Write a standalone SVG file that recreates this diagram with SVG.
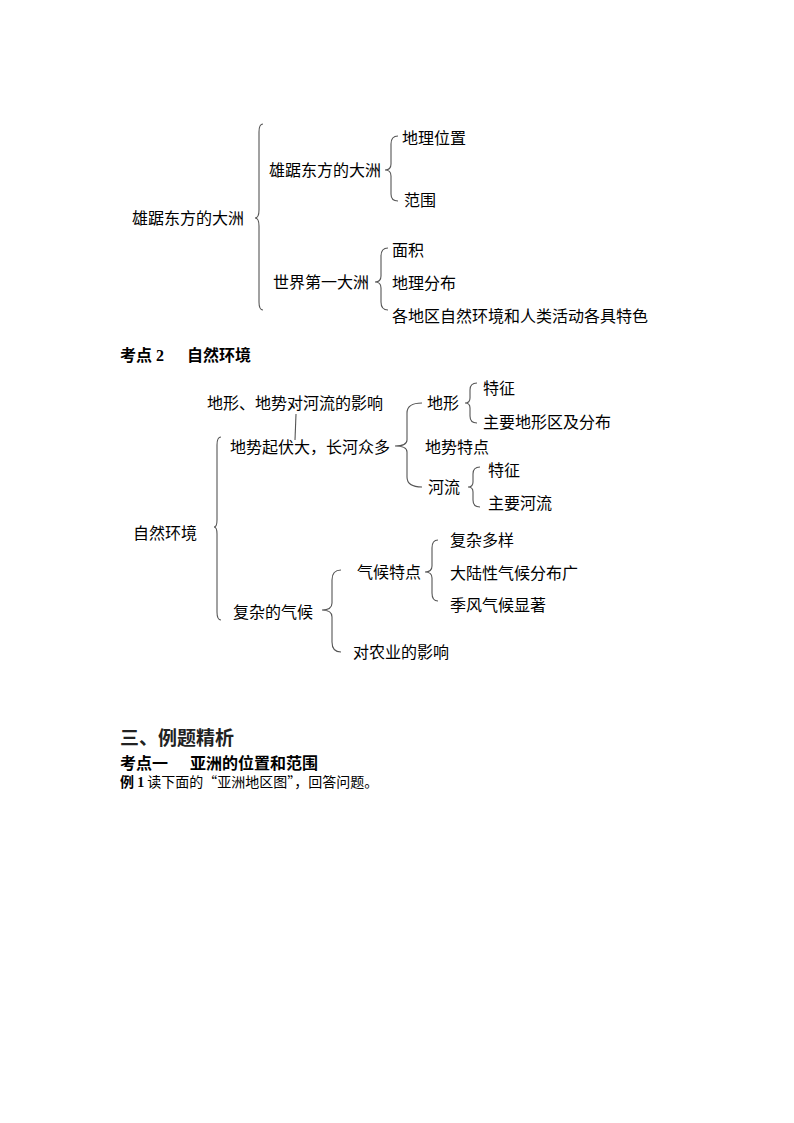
<svg xmlns="http://www.w3.org/2000/svg" width="794" height="1123" viewBox="0 0 794 1123">
<style>
text{font-family:"Liberation Serif","Noto Sans CJK SC",sans-serif;fill:#000}
.t{font-size:16px}
.h{font-size:16px;font-weight:bold}
.h1{font-size:19px;font-weight:bold;fill:#222}
.s{font-size:14px;font-family:"Noto Sans CJK SC",sans-serif}
.lat{font-family:"Liberation Serif",serif}
.b{fill:none;stroke:#555;stroke-width:1.1}
</style>
<rect width="794" height="1123" fill="#fff"/>
<g id="connectors">
<path class="b" d="M263,124 Q259,124 259,132 L259,210 Q259,218 255,218 Q259,218 259,226 L259,302 Q259,310 263,310"/>
<path class="b" d="M398,136 Q391,136 391,144 L391,164 Q391,170 385,170 Q391,170 391,176 L391,194 Q391,201 398,201"/>
<path class="b" d="M388,248 Q381,248 381,256 L381,276 Q381,282 375,282 Q381,282 381,288 L381,302 Q381,310 388,310"/>
<path class="b" d="M296,414 L295,440"/>
<path class="b" d="M221,437 Q217,437 217,445 L217,520 Q217,527 214,527 Q217,527 217,534 L217,612 Q217,620 221,620"/>
<path class="b" d="M422,403 Q407,403 407,413 L407,440 Q407,446 395,446 Q407,446 407,452 L407,477 Q407,487 422,487"/>
<path class="b" d="M477,383 Q470,383 470,390 L470,398 Q470,403 465,403 Q470,403 470,408 L470,416 Q470,423 477,423"/>
<path class="b" d="M480,467 Q473,467 473,474 L473,482 Q473,487 468,487 Q473,487 473,492 L473,500 Q473,507 480,507"/>
<path class="b" d="M341,570 Q332,570 332,580 L332,603 Q332,610 322,610 Q332,610 332,617 L332,642 Q332,652 341,652"/>
<path class="b" d="M438,540 Q432,540 432,548 L432,566 Q432,572 425,572 Q432,572 432,578 L432,593 Q432,601 438,601"/>
</g>
<g id="n-root1"><text class="t" x="132" y="224">雄踞东方的大洲</text></g>
<g id="n-a"><text class="t" x="269" y="176">雄踞东方的大洲</text></g>
<g id="n-a1"><text class="t" x="402" y="144">地理位置</text></g>
<g id="n-a2"><text class="t" x="404" y="206">范围</text></g>
<g id="n-b"><text class="t" x="273" y="288">世界第一大洲</text></g>
<g id="n-b1"><text class="t" x="392" y="256">面积</text></g>
<g id="n-b2"><text class="t" x="392" y="289">地理分布</text></g>
<g id="n-b3"><text class="t" x="392" y="322">各地区自然环境和人类活动各具特色</text></g>
<g id="heading2"><text class="h" x="120" y="361">考点 2</text><text class="h" x="187" y="361">自然环境</text></g>
<g id="n-root2"><text class="t" x="133" y="539">自然环境</text></g>
<g id="n-note"><text class="t" x="207" y="409">地形、地势对河流的影响</text></g>
<g id="n-c"><text class="t" x="230" y="453">地势起伏大，长河众多</text></g>
<g id="n-c1"><text class="t" x="427" y="409">地形</text></g>
<g id="n-c11"><text class="t" x="483" y="394">特征</text></g>
<g id="n-c12"><text class="t" x="483" y="428">主要地形区及分布</text></g>
<g id="n-c2"><text class="t" x="425" y="453">地势特点</text></g>
<g id="n-c3"><text class="t" x="428" y="493">河流</text></g>
<g id="n-c31"><text class="t" x="488" y="476">特征</text></g>
<g id="n-c32"><text class="t" x="488" y="509">主要河流</text></g>
<g id="n-d"><text class="t" x="233" y="618">复杂的气候</text></g>
<g id="n-d1"><text class="t" x="357" y="578">气候特点</text></g>
<g id="n-d11"><text class="t" x="450" y="546">复杂多样</text></g>
<g id="n-d12"><text class="t" x="450" y="579">大陆性气候分布广</text></g>
<g id="n-d13"><text class="t" x="450" y="611">季风气候显著</text></g>
<g id="n-d2"><text class="t" x="353" y="658">对农业的影响</text></g>
<g id="footer">
<text class="h1" x="120" y="745">三、例题精析</text>
<text class="h" x="120" y="769">考点一</text><text class="h" x="190" y="769">亚洲的位置和范围</text>
<text class="s" x="120" y="787"><tspan font-weight="bold">例 </tspan><tspan class="lat" font-weight="bold">1</tspan> 读下面的“亚洲地区图”，回答问题。</text>
</g>
</svg>
